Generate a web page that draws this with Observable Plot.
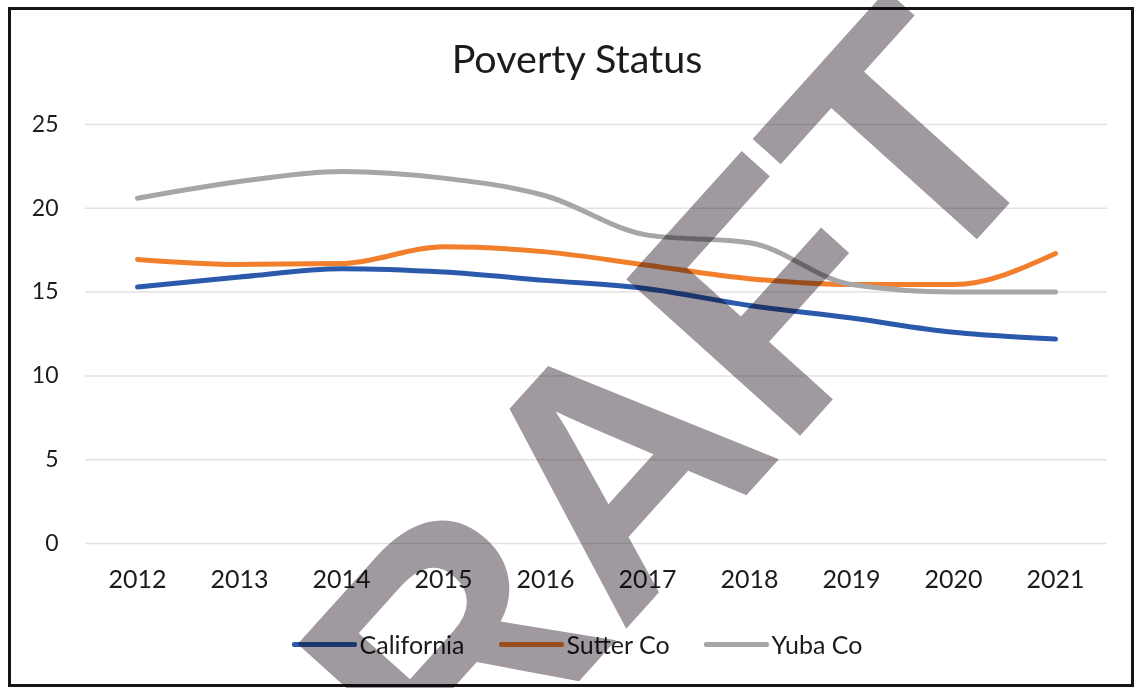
<!DOCTYPE html>
<html>
<head>
<meta charset="utf-8">
<script src="https://cdn.jsdelivr.net/npm/d3@7"></script>
<script src="https://cdn.jsdelivr.net/npm/@observablehq/plot@0.6"></script>
<style>
  html, body { margin: 0; padding: 0; background: #fff; }
  body { width: 1135px; height: 688px; overflow: hidden; font-family: Lato, "Open Sans", sans-serif; }
  #wrap { position: relative; width: 1135px; height: 688px; }
  #title { box-sizing: border-box; height: 100px; padding-top: 38px; padding-left: 19px; text-align: center; font-size: 39.5px; line-height: 39px; color: #1c1c1c; }
  #chart { height: 500px; }
  #legend { box-sizing: border-box; height: 88px; padding-top: 0px; padding-left: 19px; display: flex; justify-content: center; align-items: center; font-size: 25px; line-height: 26px; color: #1c1c1c; }
  .item { display: flex; align-items: center; margin: 0 17px; }
  .sw { width: 65px; height: 5px; border-radius: 2px; margin-right: 3px; }
  #border { position: absolute; left: 8px; top: 7px; width: 1126px; height: 680px; box-sizing: border-box; border: 3px solid #151515; pointer-events: none; }
  #wm { position: absolute; left: 0; top: 0; mix-blend-mode: multiply; pointer-events: none; }
</style>
</head>
<body>
<div id="wrap">
  <div id="title"></div>
  <div id="chart"></div>
  <div id="legend"></div>
  <div id="border"></div>
</div>
<script>
const titleText = "Poverty Status";
const watermarkText = "DRAFT";
const years = ["2012","2013","2014","2015","2016","2017","2018","2019","2020","2021"];
const seriesNames = ["California", "Sutter Co", "Yuba Co"];
const seriesColors = ["#2b5aad", "#f27f2c", "#a6a6a6"];
const california = [15.3, 15.9, 16.4, 16.2, 15.7, 15.2, 14.2, 13.45, 12.6, 12.2];
const sutter     = [16.95, 16.65, 16.7, 17.7, 17.4, 16.6, 15.8, 15.45, 15.45, 17.3];
const yuba       = [20.6, 21.6, 22.2, 21.8, 20.75, 18.4, 17.95, 15.45, 15.0, 15.0];
const yTicks = [0, 5, 10, 15, 20, 25];

const seriesValues = [california, sutter, yuba];
const rows = [];
seriesNames.forEach((name, i) => {
  years.forEach((yr, j) => rows.push({series: name, year: yr, value: seriesValues[i][j]}));
});

document.getElementById("title").textContent = titleText;

const plot = Plot.plot({
  width: 1135,
  height: 500,
  marginTop: 24,
  marginBottom: 57,
  marginLeft: 85,
  marginRight: 28,
  style: { fontFamily: "Lato, 'Open Sans', sans-serif", background: "transparent", color: "#1c1c1c" },
  x: { type: "point", domain: years, padding: 0.5, label: null },
  y: { domain: [0, 25], ticks: yTicks, label: null },
  color: { domain: seriesNames, range: seriesColors },
  marks: [
    Plot.gridY(yTicks, { stroke: "#e2e2e2", strokeOpacity: 1, strokeWidth: 1.5 }),
    Plot.axisY(yTicks, { tickSize: 0, tickPadding: 27, fontSize: 23, label: null }),
    Plot.axisX({ tickSize: 0, tickPadding: 27, fontSize: 25, label: null }),
    Plot.lineY(rows, { x: "year", y: "value", stroke: "series", z: "series", strokeWidth: 5, curve: "monotone-x", strokeLinecap: "round", strokeLinejoin: "round" })
  ]
});
document.getElementById("chart").appendChild(plot);

const legend = document.getElementById("legend");
seriesNames.forEach((name, i) => {
  const it = document.createElement("div");
  it.className = "item";
  const sw = document.createElement("div");
  sw.className = "sw";
  sw.style.background = seriesColors[i];
  const tx = document.createElement("span");
  tx.textContent = name;
  it.appendChild(sw); it.appendChild(tx);
  legend.appendChild(it);
});

// DRAFT watermark overlay (scanned document stamp)
const wm = d3.select("#wrap").append("svg")
  .attr("id", "wm").attr("width", 1135).attr("height", 688);
wm.append("text")
  .attr("transform", "translate(292,1000) rotate(-48)")
  .attr("font-family", "'Liberation Sans', Arial, sans-serif")
  .attr("font-weight", "bold")
  .attr("font-size", 340)
  .attr("fill", "#a09aa0")
  .text(watermarkText);
</script>
</body>
</html>
